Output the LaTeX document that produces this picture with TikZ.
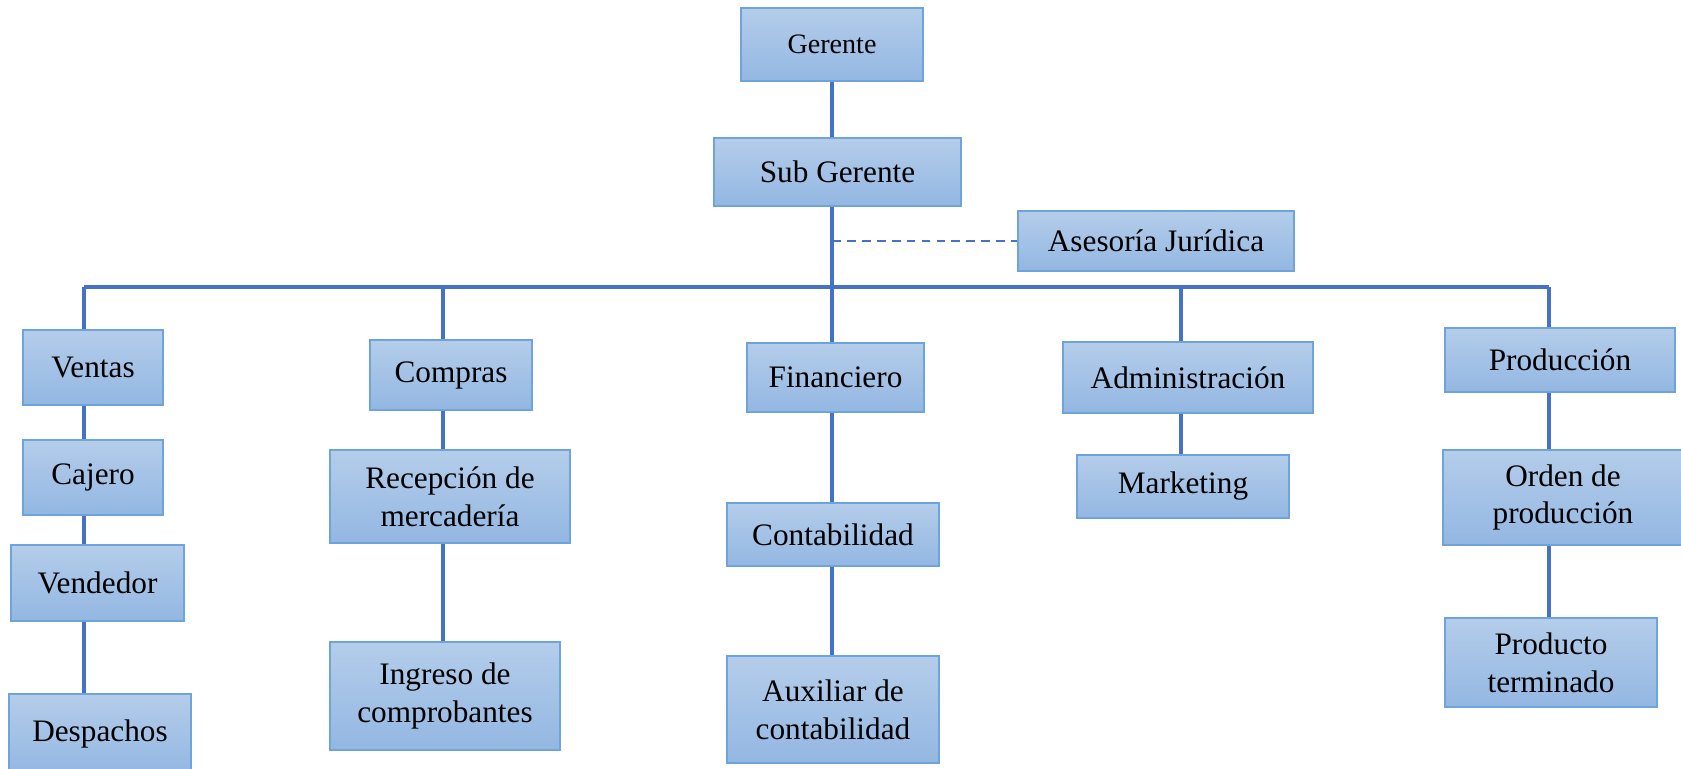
\documentclass[tikz,border=0pt]{standalone}
\usepackage{fontspec}
\setmainfont{Liberation Serif}
\usepackage{xcolor}
\usetikzlibrary{positioning,calc}

\definecolor{linkblue}{HTML}{4472C4}
\definecolor{boxedge}{HTML}{6FA3DC}
\definecolor{boxtop}{HTML}{B4CDEA}
\definecolor{boxbot}{HTML}{93B7E2}

\tikzset{
    unitbox/.style 2 args={draw=boxedge, line width=0.9pt, top color=boxtop, bottom color=boxbot,
        minimum width=#1*0.02cm, minimum height=#2*0.02cm, inner sep=0pt,
        align=center, font=\fontsize{17.8}{21.5}\selectfont},
    link/.style={draw=linkblue, line width=2.2pt},
    dashlink/.style={draw=linkblue, line width=1.1pt, dashed, dash pattern=on 5pt off 3.5pt}
}

\begin{document}
\begin{tikzpicture}[x=0.02cm, y=-0.02cm]
    \useasboundingbox (0,0) rectangle (1681,768);

    % top
    \node[unitbox={182}{73}, font=\fontsize{16}{19}\selectfont] (ger) at (832,44.5) {Gerente};
    \node[unitbox={247}{68}] (sub) at (837.5,172) {Sub Gerente};
    \node[unitbox={276}{60}] (ase) at (1156,241) {Asesoría Jurídica};

    % ventas
    \node[unitbox={140}{75}] (ven) at (93,367.5) {Ventas};
    \node[unitbox={140}{75}] (caj) at (93,477.5) {Cajero};
    \node[unitbox={173}{76}] (vnd) at (97.5,583) {Vendedor};
    \node[unitbox={182}{80}] (des) at (100,734) {Despachos};

    % compras
    \node[unitbox={162}{70}] (com) at (451,375) {Compras};
    \node[unitbox={240}{93}] (rec) at (450,496.5) {Recepción de\\mercadería};
    \node[unitbox={230}{108}] (ing) at (445,696) {Ingreso de\\comprobantes};

    % financiero
    \node[unitbox={177}{69}] (fin) at (835.5,377.5) {Financiero};
    \node[unitbox={212}{63}] (con) at (833,534.5) {Contabilidad};
    \node[unitbox={212}{107}] (aux) at (833,709.5) {Auxiliar de\\contabilidad};

    % administracion
    \node[unitbox={250}{71}] (adm) at (1188,377.5) {Administración};
    \node[unitbox={212}{63}] (mkt) at (1183,486.5) {Marketing};

    % produccion
    \node[unitbox={230}{64}] (pro) at (1560,360) {Producción};
    \node[unitbox={240}{95}] (ord) at (1563,497.5) {Orden de\\producción};
    \node[unitbox={212}{89}] (prt) at (1551,662.5) {Producto\\terminado};

    % bar
    \coordinate (ca) at (84,287);
    \coordinate (cb) at (443,287);
    \coordinate (tr) at (832,287);
    \coordinate (cd) at (1181,287);
    \coordinate (ce) at (1549,287);

    \draw[link] (ger.south -| tr) -- (sub.north -| tr);
    \draw[link] (sub.south -| tr) -- (fin.north -| tr);
    \draw[dashlink] (ase.west -| tr) -- (ase.west);
    \draw[link] (ca) -- (ce);

    \draw[link] (ca) -- (ven.north -| ca);
    \draw[link] (ven.south -| ca) -- (caj.north -| ca);
    \draw[link] (caj.south -| ca) -- (vnd.north -| ca);
    \draw[link] (vnd.south -| ca) -- (des.north -| ca);

    \draw[link] (cb) -- (com.north -| cb);
    \draw[link] (com.south -| cb) -- (rec.north -| cb);
    \draw[link] (rec.south -| cb) -- (ing.north -| cb);

    \draw[link] (fin.south -| tr) -- (con.north -| tr);
    \draw[link] (con.south -| tr) -- (aux.north -| tr);

    \draw[link] (cd) -- (adm.north -| cd);
    \draw[link] (adm.south -| cd) -- (mkt.north -| cd);

    \draw[link] (ce) -- (pro.north -| ce);
    \draw[link] (pro.south -| ce) -- (ord.north -| ce);
    \draw[link] (ord.south -| ce) -- (prt.north -| ce);
\end{tikzpicture}
\end{document}
